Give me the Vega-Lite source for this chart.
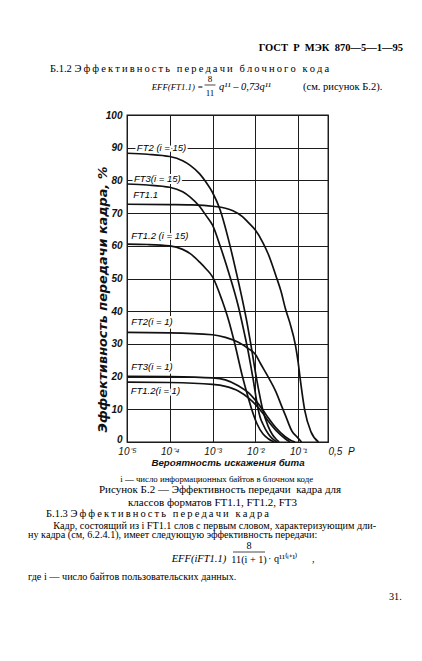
{
  "$schema": "https://vega.github.io/schema/vega-lite/v6.json",
  "description": "ГОСТ Р МЭК 870-5-1-95, рисунок Б.2: эффективность передачи кадра для классов форматов FT1.1, FT1.2, FT3",
  "width": 201,
  "height": 327,
  "autosize": {"type": "none"},
  "padding": {"left": 127, "top": 115, "right": 94, "bottom": 219},
  "background": "white",
  "datasets": {
    "curves": [
      {"series": "FT2 (i = 15)", "p": 0.00001, "eff": 88.3},
      {"series": "FT2 (i = 15)", "p": 0.00003, "eff": 88.0},
      {"series": "FT2 (i = 15)", "p": 0.0001, "eff": 87.3},
      {"series": "FT2 (i = 15)", "p": 0.0002, "eff": 86.0},
      {"series": "FT2 (i = 15)", "p": 0.0003, "eff": 84.6},
      {"series": "FT2 (i = 15)", "p": 0.0005, "eff": 82.0},
      {"series": "FT2 (i = 15)", "p": 0.0007, "eff": 79.5},
      {"series": "FT2 (i = 15)", "p": 0.001, "eff": 76.3},
      {"series": "FT2 (i = 15)", "p": 0.0015, "eff": 71.0},
      {"series": "FT2 (i = 15)", "p": 0.0024, "eff": 61.5},
      {"series": "FT2 (i = 15)", "p": 0.0035, "eff": 52.5},
      {"series": "FT2 (i = 15)", "p": 0.005, "eff": 43.4},
      {"series": "FT2 (i = 15)", "p": 0.0065, "eff": 36.0},
      {"series": "FT2 (i = 15)", "p": 0.0078, "eff": 30.1},
      {"series": "FT2 (i = 15)", "p": 0.0105, "eff": 19.9},
      {"series": "FT2 (i = 15)", "p": 0.013, "eff": 13.5},
      {"series": "FT2 (i = 15)", "p": 0.015, "eff": 9.7},
      {"series": "FT2 (i = 15)", "p": 0.02, "eff": 4.8},
      {"series": "FT2 (i = 15)", "p": 0.025, "eff": 2.3},
      {"series": "FT2 (i = 15)", "p": 0.03, "eff": 1.0},
      {"series": "FT2 (i = 15)", "p": 0.036, "eff": 0},
      {"series": "FT3 (i = 15)", "p": 0.00001, "eff": 78.9},
      {"series": "FT3 (i = 15)", "p": 0.00003, "eff": 78.6},
      {"series": "FT3 (i = 15)", "p": 0.0001, "eff": 77.9},
      {"series": "FT3 (i = 15)", "p": 0.0002, "eff": 76.5},
      {"series": "FT3 (i = 15)", "p": 0.0003, "eff": 74.9},
      {"series": "FT3 (i = 15)", "p": 0.0005, "eff": 72.0},
      {"series": "FT3 (i = 15)", "p": 0.0007, "eff": 69.3},
      {"series": "FT3 (i = 15)", "p": 0.001, "eff": 66.3},
      {"series": "FT3 (i = 15)", "p": 0.0015, "eff": 60.0},
      {"series": "FT3 (i = 15)", "p": 0.0024, "eff": 51.7},
      {"series": "FT3 (i = 15)", "p": 0.004, "eff": 41.5},
      {"series": "FT3 (i = 15)", "p": 0.0056, "eff": 33.0},
      {"series": "FT3 (i = 15)", "p": 0.0065, "eff": 29.0},
      {"series": "FT3 (i = 15)", "p": 0.0087, "eff": 19.9},
      {"series": "FT3 (i = 15)", "p": 0.0117, "eff": 9.9},
      {"series": "FT3 (i = 15)", "p": 0.013, "eff": 7.5},
      {"series": "FT3 (i = 15)", "p": 0.015, "eff": 5.5},
      {"series": "FT3 (i = 15)", "p": 0.02, "eff": 2.5},
      {"series": "FT3 (i = 15)", "p": 0.025, "eff": 1.0},
      {"series": "FT3 (i = 15)", "p": 0.032, "eff": 0},
      {"series": "FT1.1", "p": 0.00001, "eff": 72.7},
      {"series": "FT1.1", "p": 0.0001, "eff": 72.6},
      {"series": "FT1.1", "p": 0.0003, "eff": 72.5},
      {"series": "FT1.1", "p": 0.001, "eff": 72.1},
      {"series": "FT1.1", "p": 0.002, "eff": 71.5},
      {"series": "FT1.1", "p": 0.003, "eff": 70.7},
      {"series": "FT1.1", "p": 0.005, "eff": 68.9},
      {"series": "FT1.1", "p": 0.007, "eff": 67.0},
      {"series": "FT1.1", "p": 0.01, "eff": 64.8},
      {"series": "FT1.1", "p": 0.015, "eff": 61.0},
      {"series": "FT1.1", "p": 0.02, "eff": 57.5},
      {"series": "FT1.1", "p": 0.03, "eff": 51.0},
      {"series": "FT1.1", "p": 0.04, "eff": 46.0},
      {"series": "FT1.1", "p": 0.05, "eff": 41.0},
      {"series": "FT1.1", "p": 0.064, "eff": 36.5},
      {"series": "FT1.1", "p": 0.087, "eff": 29.5},
      {"series": "FT1.1", "p": 0.1, "eff": 24.5},
      {"series": "FT1.1", "p": 0.111, "eff": 19.7},
      {"series": "FT1.1", "p": 0.143, "eff": 9.7},
      {"series": "FT1.1", "p": 0.2, "eff": 3.1},
      {"series": "FT1.1", "p": 0.3, "eff": 0},
      {"series": "FT1.2 (i = 15)", "p": 0.00001, "eff": 60.5},
      {"series": "FT1.2 (i = 15)", "p": 0.00003, "eff": 60.4},
      {"series": "FT1.2 (i = 15)", "p": 0.0001, "eff": 60.0},
      {"series": "FT1.2 (i = 15)", "p": 0.0002, "eff": 58.9},
      {"series": "FT1.2 (i = 15)", "p": 0.0003, "eff": 57.6},
      {"series": "FT1.2 (i = 15)", "p": 0.0005, "eff": 55.0},
      {"series": "FT1.2 (i = 15)", "p": 0.0007, "eff": 53.0},
      {"series": "FT1.2 (i = 15)", "p": 0.001, "eff": 50.5},
      {"series": "FT1.2 (i = 15)", "p": 0.00166, "eff": 43.4},
      {"series": "FT1.2 (i = 15)", "p": 0.0024, "eff": 37.0},
      {"series": "FT1.2 (i = 15)", "p": 0.0033, "eff": 30.1},
      {"series": "FT1.2 (i = 15)", "p": 0.0049, "eff": 20.5},
      {"series": "FT1.2 (i = 15)", "p": 0.0065, "eff": 14.5},
      {"series": "FT1.2 (i = 15)", "p": 0.008, "eff": 10.5},
      {"series": "FT1.2 (i = 15)", "p": 0.011, "eff": 5.5},
      {"series": "FT1.2 (i = 15)", "p": 0.015, "eff": 2.5},
      {"series": "FT1.2 (i = 15)", "p": 0.02, "eff": 1.0},
      {"series": "FT1.2 (i = 15)", "p": 0.028, "eff": 0},
      {"series": "FT2 (i = 1)", "p": 0.00001, "eff": 33.5},
      {"series": "FT2 (i = 1)", "p": 0.0001, "eff": 33.4},
      {"series": "FT2 (i = 1)", "p": 0.001, "eff": 32.8},
      {"series": "FT2 (i = 1)", "p": 0.002, "eff": 32.0},
      {"series": "FT2 (i = 1)", "p": 0.004, "eff": 30.5},
      {"series": "FT2 (i = 1)", "p": 0.007, "eff": 28.5},
      {"series": "FT2 (i = 1)", "p": 0.01, "eff": 26.8},
      {"series": "FT2 (i = 1)", "p": 0.0132, "eff": 24.0},
      {"series": "FT2 (i = 1)", "p": 0.0204, "eff": 19.7},
      {"series": "FT2 (i = 1)", "p": 0.03, "eff": 15.5},
      {"series": "FT2 (i = 1)", "p": 0.0426, "eff": 10.5},
      {"series": "FT2 (i = 1)", "p": 0.05, "eff": 8.3},
      {"series": "FT2 (i = 1)", "p": 0.072, "eff": 3.3},
      {"series": "FT2 (i = 1)", "p": 0.1, "eff": 1.2},
      {"series": "FT2 (i = 1)", "p": 0.12, "eff": 0},
      {"series": "FT3 (i = 1)", "p": 0.00001, "eff": 20.1},
      {"series": "FT3 (i = 1)", "p": 0.0001, "eff": 20.0},
      {"series": "FT3 (i = 1)", "p": 0.001, "eff": 19.6},
      {"series": "FT3 (i = 1)", "p": 0.002, "eff": 19.0},
      {"series": "FT3 (i = 1)", "p": 0.004, "eff": 17.2},
      {"series": "FT3 (i = 1)", "p": 0.007, "eff": 15.0},
      {"series": "FT3 (i = 1)", "p": 0.01, "eff": 12.8},
      {"series": "FT3 (i = 1)", "p": 0.015, "eff": 9.8},
      {"series": "FT3 (i = 1)", "p": 0.02, "eff": 7.4},
      {"series": "FT3 (i = 1)", "p": 0.03, "eff": 4.4},
      {"series": "FT3 (i = 1)", "p": 0.05, "eff": 1.6},
      {"series": "FT3 (i = 1)", "p": 0.07, "eff": 0.4},
      {"series": "FT3 (i = 1)", "p": 0.085, "eff": 0},
      {"series": "FT1.2 (i = 1)", "p": 0.00001, "eff": 18.3},
      {"series": "FT1.2 (i = 1)", "p": 0.0001, "eff": 18.2},
      {"series": "FT1.2 (i = 1)", "p": 0.001, "eff": 17.6},
      {"series": "FT1.2 (i = 1)", "p": 0.002, "eff": 17.0},
      {"series": "FT1.2 (i = 1)", "p": 0.004, "eff": 15.6},
      {"series": "FT1.2 (i = 1)", "p": 0.007, "eff": 13.4},
      {"series": "FT1.2 (i = 1)", "p": 0.01, "eff": 11.5},
      {"series": "FT1.2 (i = 1)", "p": 0.015, "eff": 8.8},
      {"series": "FT1.2 (i = 1)", "p": 0.02, "eff": 6.4},
      {"series": "FT1.2 (i = 1)", "p": 0.03, "eff": 3.6},
      {"series": "FT1.2 (i = 1)", "p": 0.05, "eff": 1.0},
      {"series": "FT1.2 (i = 1)", "p": 0.065, "eff": 0}
    ],
    "labels": [
      {"label": "FT2 (i = 15)", "p": 0.000017, "eff": 90},
      {"label": "FT3(i = 15)", "p": 0.0000145, "eff": 80.3},
      {"label": "FT1.1", "p": 0.000014, "eff": 75.5},
      {"label": "FT1.2 (i = 15)", "p": 0.0000125, "eff": 63},
      {"label": "FT2(i = 1)", "p": 0.0000125, "eff": 36.8},
      {"label": "FT3(i = 1)", "p": 0.0000125, "eff": 22.8},
      {"label": "FT1.2(i = 1)", "p": 0.0000122, "eff": 15.6}
    ]
  },
  "layer": [
    {
      "encoding": {
        "x": {
          "field": "p",
          "type": "quantitative",
          "scale": {"type": "log", "domain": [0.00001, 0.5], "nice": false},
          "axis": {
            "values": [0.00001, 0.0001, 0.001, 0.01, 0.1, 0.5],
            "labelExpr": "datum.value > 0.2 ? '0,5\u00a0\u00a0P' : '10' + ['⁻⁵', '⁻⁴', '⁻³', '⁻²', '⁻¹'][round(log(datum.value) / LN10) + 5]",
            "labelAlign": {"condition": {"test": "datum.value > 0.2", "value": "left"}, "value": "center"},
            "labelFlush": false,
            "labelOverlap": false,
            "labelPadding": 4,
            "labelFont": "Liberation Sans",
            "labelFontSize": 10,
            "labelFontStyle": "italic",
            "labelColor": "#111",
            "grid": true,
            "gridColor": "#1c1c1c",
            "gridWidth": 1,
            "ticks": false,
            "domain": false,
            "title": "Вероятность искажения бита",
            "titleFont": "Liberation Sans",
            "titleFontSize": 9.7,
            "titleFontStyle": "italic",
            "titleFontWeight": "bold",
            "titleColor": "#111",
            "titleBaseline": "alphabetic",
            "titleY": 23
          }
        },
        "y": {
          "field": "eff",
          "type": "quantitative",
          "scale": {"domain": [0, 100], "nice": false},
          "axis": {
            "values": [0, 10, 20, 30, 40, 50, 60, 70, 80, 90, 100],
            "labelFlush": false,
            "labelPadding": 5,
            "labelOffset": {"condition": {"test": "datum.value == 0", "value": -3}, "value": 0},
            "labelFont": "Liberation Sans",
            "labelFontSize": 10,
            "labelFontStyle": "italic",
            "labelFontWeight": "bold",
            "labelColor": "#111",
            "grid": true,
            "gridColor": "#1c1c1c",
            "gridWidth": 1,
            "ticks": false,
            "domain": false,
            "title": "Эффективность передачи кадра, %",
            "titleFont": "DejaVu Sans",
            "titleFontSize": 12.8,
            "titleFontStyle": "italic",
            "titleFontWeight": "bold",
            "titleColor": "#111",
            "titleAngle": -90,
            "titleAlign": "center",
            "titleBaseline": "middle",
            "titleX": -25,
            "titleY": 184
          }
        }
      },
      "layer": [
        {
          "data": {"name": "labels"},
          "mark": {"type": "text", "style": "curveLabel", "stroke": "white", "strokeWidth": 4, "strokeJoin": "round", "fill": "white"},
          "encoding": {"text": {"field": "label"}}
        },
        {
          "data": {"name": "curves"},
          "mark": {"type": "line", "color": "#111", "strokeWidth": 1.7, "interpolate": "monotone"},
          "encoding": {"detail": {"field": "series"}}
        },
        {
          "data": {"name": "labels"},
          "mark": {"type": "text", "style": "curveLabel"},
          "encoding": {"text": {"field": "label"}}
        }
      ]
    },
    {
      "data": {"values": [{}]},
      "layer": [
        {
          "mark": {"type": "text", "style": "gost", "text": "ГОСТ\u00a0\u00a0Р\u00a0\u00a0МЭК\u00a0\u00a0870—5—1—95"},
          "encoding": {
            "x": {"datum": 1.0, "type": "quantitative", "scale": {"domain": [0.264, 0.8], "zero": false, "nice": false}, "axis": null},
            "y": {"datum": 0.07791, "type": "quantitative", "scale": {"domain": [0.66868, 0.17398], "zero": false, "nice": false}, "axis": null}
          }
        },
        {
          "mark": {"type": "text", "style": "heading", "text": "Б.1.2 Э\u2009ф\u2009ф\u2009е\u2009к\u2009т\u2009и\u2009в\u2009н\u2009о\u2009с\u2009т\u2009ь\u2009 \u2009п\u2009е\u2009р\u2009е\u2009д\u2009а\u2009ч\u2009и\u2009 \u2009б\u2009л\u2009о\u2009ч\u2009н\u2009о\u2009г\u2009о\u2009 \u2009к\u2009о\u2009д\u2009а"},
          "encoding": {
            "x": {"datum": 0.05867, "type": "quantitative", "scale": {"domain": [0.264, 0.8], "zero": false, "nice": false}, "axis": null},
            "y": {"datum": 0.10968, "type": "quantitative", "scale": {"domain": [0.66868, 0.17398], "zero": false, "nice": false}, "axis": null}
          }
        },
        {
          "mark": {"type": "text", "style": "formulaItalic", "fontSize": 8.8, "text": "EFF(FT1.1) ="},
          "encoding": {
            "x": {"datum": 0.32987, "type": "quantitative", "scale": {"domain": [0.264, 0.8], "zero": false, "nice": false}, "axis": null},
            "y": {"datum": 0.13691, "type": "quantitative", "scale": {"domain": [0.66868, 0.17398], "zero": false, "nice": false}, "axis": null}
          }
        },
        {
          "mark": {"type": "text", "style": "formula", "fontSize": 9, "align": "center", "text": "8"},
          "encoding": {
            "x": {"datum": 0.48533, "type": "quantitative", "scale": {"domain": [0.264, 0.8], "zero": false, "nice": false}, "axis": null},
            "y": {"datum": 0.12405, "type": "quantitative", "scale": {"domain": [0.66868, 0.17398], "zero": false, "nice": false}, "axis": null}
          }
        },
        {
          "mark": {"type": "rule", "color": "#1a1a1a", "strokeWidth": 0.8},
          "encoding": {
            "x": {"datum": 0.47067, "type": "quantitative", "scale": {"domain": [0.264, 0.8], "zero": false, "nice": false}, "axis": null},
            "x2": {"datum": 0.5},
            "y": {"datum": 0.12859, "type": "quantitative", "scale": {"domain": [0.66868, 0.17398], "zero": false, "nice": false}, "axis": null}
          }
        },
        {
          "mark": {"type": "text", "style": "formula", "fontSize": 9, "align": "center", "text": "11"},
          "encoding": {
            "x": {"datum": 0.48533, "type": "quantitative", "scale": {"domain": [0.264, 0.8], "zero": false, "nice": false}, "axis": null},
            "y": {"datum": 0.14448, "type": "quantitative", "scale": {"domain": [0.66868, 0.17398], "zero": false, "nice": false}, "axis": null}
          }
        },
        {
          "mark": {"type": "text", "style": "formulaItalic", "text": "q¹¹ – 0,73q¹¹"},
          "encoding": {
            "x": {"datum": 0.50933, "type": "quantitative", "scale": {"domain": [0.264, 0.8], "zero": false, "nice": false}, "axis": null},
            "y": {"datum": 0.13691, "type": "quantitative", "scale": {"domain": [0.66868, 0.17398], "zero": false, "nice": false}, "axis": null}
          }
        },
        {
          "mark": {"type": "text", "style": "formula", "text": "(см. рисунок Б.2)."},
          "encoding": {
            "x": {"datum": 0.73333, "type": "quantitative", "scale": {"domain": [0.264, 0.8], "zero": false, "nice": false}, "axis": null},
            "y": {"datum": 0.13691, "type": "quantitative", "scale": {"domain": [0.66868, 0.17398], "zero": false, "nice": false}, "axis": null}
          }
        },
        {
          "mark": {"type": "text", "style": "note", "text": "i — число информационных байтов в блочном коде"},
          "encoding": {
            "x": {"datum": 0.5032, "type": "quantitative", "scale": {"domain": [0.264, 0.8], "zero": false, "nice": false}, "axis": null},
            "y": {"datum": 0.7292, "type": "quantitative", "scale": {"domain": [0.66868, 0.17398], "zero": false, "nice": false}, "axis": null}
          }
        },
        {
          "mark": {"type": "text", "style": "caption", "text": "Рисунок Б.2 — Эффективность передачи\u00a0 кадра для"},
          "encoding": {
            "x": {"datum": 0.512, "type": "quantitative", "scale": {"domain": [0.264, 0.8], "zero": false, "nice": false}, "axis": null},
            "y": {"datum": 0.74584, "type": "quantitative", "scale": {"domain": [0.66868, 0.17398], "zero": false, "nice": false}, "axis": null}
          }
        },
        {
          "mark": {"type": "text", "style": "caption", "text": "классов форматов FT1.1, FT1.2, FT3"},
          "encoding": {
            "x": {"datum": 0.492, "type": "quantitative", "scale": {"domain": [0.264, 0.8], "zero": false, "nice": false}, "axis": null},
            "y": {"datum": 0.76475, "type": "quantitative", "scale": {"domain": [0.66868, 0.17398], "zero": false, "nice": false}, "axis": null}
          }
        },
        {
          "mark": {"type": "text", "style": "heading", "text": "Б.1.3 Э\u2009ф\u2009ф\u2009е\u2009к\u2009т\u2009и\u2009в\u2009н\u2009о\u2009с\u2009т\u2009ь\u2009 \u2009п\u2009е\u2009р\u2009е\u2009д\u2009а\u2009ч\u2009и\u2009 \u2009к\u2009а\u2009д\u2009р\u2009а"},
          "encoding": {
            "x": {"datum": 0.048, "type": "quantitative", "scale": {"domain": [0.264, 0.8], "zero": false, "nice": false}, "axis": null},
            "y": {"datum": 0.78215, "type": "quantitative", "scale": {"domain": [0.66868, 0.17398], "zero": false, "nice": false}, "axis": null}
          }
        },
        {
          "mark": {"type": "text", "style": "body", "text": "Кадр, состоящий из i FT1.1 слов с первым словом, характеризующим дли-"},
          "encoding": {
            "x": {"datum": 0.06747, "type": "quantitative", "scale": {"domain": [0.264, 0.8], "zero": false, "nice": false}, "axis": null},
            "y": {"datum": 0.79955, "type": "quantitative", "scale": {"domain": [0.66868, 0.17398], "zero": false, "nice": false}, "axis": null}
          }
        },
        {
          "mark": {"type": "text", "style": "body", "text": "ну кадра (см, 6.2.4.1), имеет следующую эффективность передачи:"},
          "encoding": {
            "x": {"datum": 0.0, "type": "quantitative", "scale": {"domain": [0.264, 0.8], "zero": false, "nice": false}, "axis": null},
            "y": {"datum": 0.81392, "type": "quantitative", "scale": {"domain": [0.66868, 0.17398], "zero": false, "nice": false}, "axis": null}
          }
        },
        {
          "mark": {"type": "text", "style": "formulaItalic", "text": "EFF(iFT1.1)"},
          "encoding": {
            "x": {"datum": 0.3832, "type": "quantitative", "scale": {"domain": [0.264, 0.8], "zero": false, "nice": false}, "axis": null},
            "y": {"datum": 0.85023, "type": "quantitative", "scale": {"domain": [0.66868, 0.17398], "zero": false, "nice": false}, "axis": null}
          }
        },
        {
          "mark": {"type": "text", "style": "body", "align": "center", "text": "8"},
          "encoding": {
            "x": {"datum": 0.58933, "type": "quantitative", "scale": {"domain": [0.264, 0.8], "zero": false, "nice": false}, "axis": null},
            "y": {"datum": 0.83056, "type": "quantitative", "scale": {"domain": [0.66868, 0.17398], "zero": false, "nice": false}, "axis": null}
          }
        },
        {
          "mark": {"type": "rule", "color": "#1a1a1a", "strokeWidth": 0.8},
          "encoding": {
            "x": {"datum": 0.54667, "type": "quantitative", "scale": {"domain": [0.264, 0.8], "zero": false, "nice": false}, "axis": null},
            "x2": {"datum": 0.632},
            "y": {"datum": 0.8351, "type": "quantitative", "scale": {"domain": [0.66868, 0.17398], "zero": false, "nice": false}, "axis": null}
          }
        },
        {
          "mark": {"type": "text", "style": "body", "align": "center", "text": "11(i + 1)"},
          "encoding": {
            "x": {"datum": 0.58933, "type": "quantitative", "scale": {"domain": [0.264, 0.8], "zero": false, "nice": false}, "axis": null},
            "y": {"datum": 0.85098, "type": "quantitative", "scale": {"domain": [0.66868, 0.17398], "zero": false, "nice": false}, "axis": null}
          }
        },
        {
          "mark": {"type": "text", "style": "body", "text": "· q¹¹⁽ⁱ⁺¹⁾"},
          "encoding": {
            "x": {"datum": 0.64, "type": "quantitative", "scale": {"domain": [0.264, 0.8], "zero": false, "nice": false}, "axis": null},
            "y": {"datum": 0.84947, "type": "quantitative", "scale": {"domain": [0.66868, 0.17398], "zero": false, "nice": false}, "axis": null}
          }
        },
        {
          "mark": {"type": "text", "style": "body", "text": ","},
          "encoding": {
            "x": {"datum": 0.75733, "type": "quantitative", "scale": {"domain": [0.264, 0.8], "zero": false, "nice": false}, "axis": null},
            "y": {"datum": 0.84947, "type": "quantitative", "scale": {"domain": [0.66868, 0.17398], "zero": false, "nice": false}, "axis": null}
          }
        },
        {
          "mark": {"type": "text", "style": "body", "text": "где i — число байтов пользовательских данных."},
          "encoding": {
            "x": {"datum": 0.0, "type": "quantitative", "scale": {"domain": [0.264, 0.8], "zero": false, "nice": false}, "axis": null},
            "y": {"datum": 0.87746, "type": "quantitative", "scale": {"domain": [0.66868, 0.17398], "zero": false, "nice": false}, "axis": null}
          }
        },
        {
          "mark": {"type": "text", "style": "body", "align": "right", "text": "31."},
          "encoding": {
            "x": {"datum": 0.99653, "type": "quantitative", "scale": {"domain": [0.264, 0.8], "zero": false, "nice": false}, "axis": null},
            "y": {"datum": 0.90772, "type": "quantitative", "scale": {"domain": [0.66868, 0.17398], "zero": false, "nice": false}, "axis": null}
          }
        }
      ]
    }
  ],
  "resolve": {"scale": {"x": "independent", "y": "independent"}},
  "config": {
    "view": {"stroke": "#141414", "strokeWidth": 1.3},
    "style": {
      "curveLabel": {"font": "Liberation Sans", "fontSize": 9.5, "fontStyle": "italic", "align": "left", "baseline": "middle", "fill": "#111"},
      "gost": {"font": "Liberation Serif", "fontSize": 10.5, "fontWeight": "bold", "align": "right", "baseline": "alphabetic", "fill": "#111"},
      "heading": {"font": "Liberation Serif", "fontSize": 10.5, "align": "left", "baseline": "alphabetic", "fill": "#1a1a1a"},
      "formula": {"font": "Liberation Serif", "fontSize": 10.5, "align": "left", "baseline": "alphabetic", "fill": "#1a1a1a"},
      "formulaItalic": {"font": "Liberation Serif", "fontSize": 10.5, "fontStyle": "italic", "align": "left", "baseline": "alphabetic", "fill": "#1a1a1a"},
      "body": {"font": "Liberation Serif", "fontSize": 10.2, "align": "left", "baseline": "alphabetic", "fill": "#1a1a1a"},
      "caption": {"font": "Liberation Serif", "fontSize": 11, "align": "center", "baseline": "alphabetic", "fill": "#1a1a1a"},
      "note": {"font": "Liberation Serif", "fontSize": 8.8, "align": "center", "baseline": "alphabetic", "fill": "#1a1a1a"}
    }
  }
}
